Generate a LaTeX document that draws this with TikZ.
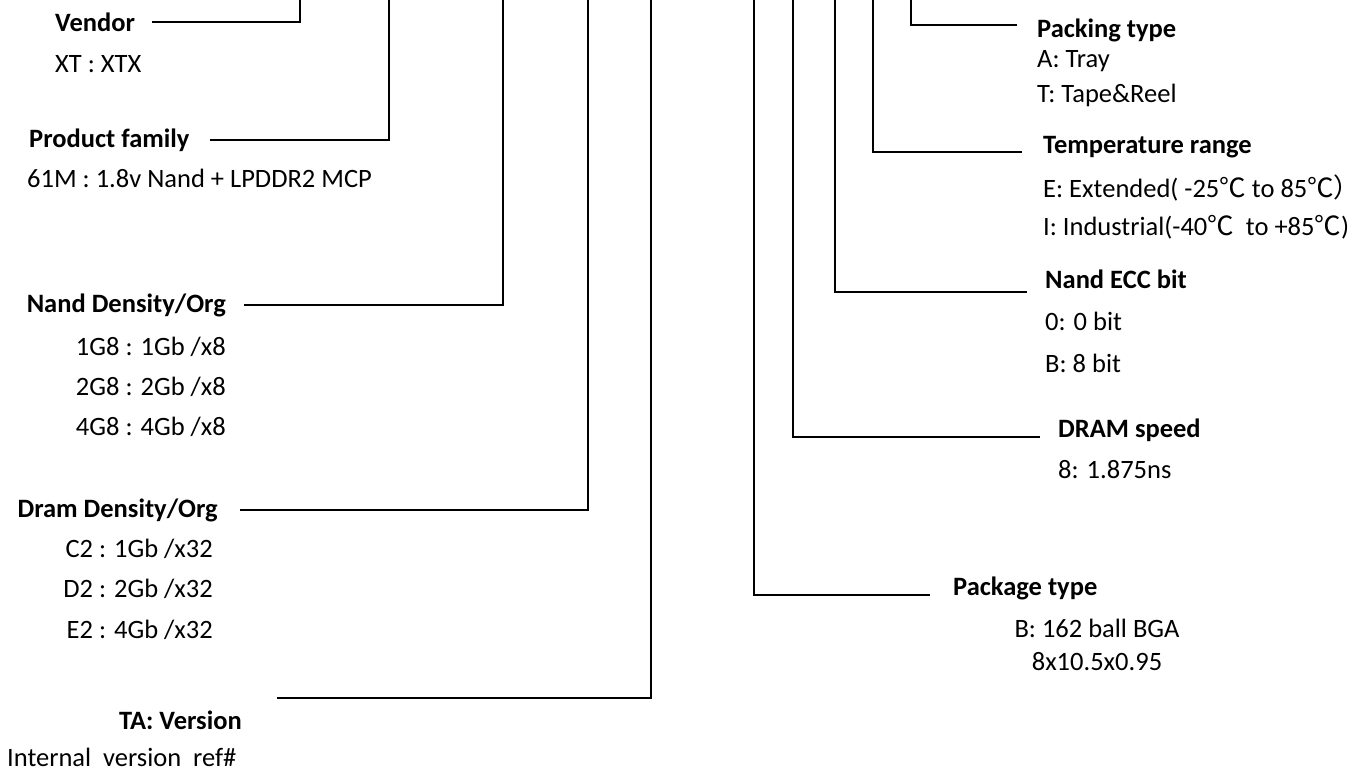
\documentclass[tikz,border=0pt]{standalone}
\usepackage{fontspec}
\setmainfont{Carlito}
\newfontfamily\cjk{Noto Sans CJK SC}
\usetikzlibrary{positioning}
\newcommand{\pnsize}{\fontsize{26.5}{31}\selectfont}
\newcommand{\degc}{{\cjk ℃}}

\begin{document}
\begin{tikzpicture}[x=1pt, y=-1pt,
  head/.style={font=\pnsize\bfseries, inner sep=0pt, anchor=base west},
  item/.style={font=\pnsize, inner sep=0pt, anchor=base west},
  lead/.style={draw, line width=1.6pt}]
\useasboundingbox (0,0) rectangle (1366,772);

% left column
\node[head] (vendor) at (55,31) {Vendor};
\node[item] (vendorxt) at (55,72) {XT : XTX};
\node[head] (family) at (29,147) {Product family};
\node[item] (family61m) at (27,187) {61M : 1.8v Nand + LPDDR2 MCP};
\node[head, anchor=base east] (nand) at (226,312) {Nand Density/Org};
\node[item, anchor=base east] (nand1g) at (226,355) {1G8 : 1Gb /x8};
\node[item, anchor=base east] (nand2g) at (226,395) {2G8 : 2Gb /x8};
\node[item, anchor=base east] (nand4g) at (226,435) {4G8 : 4Gb /x8};
\node[head, anchor=base east] (dram) at (218,517) {Dram Density/Org};
\node[item, anchor=base east] (dramc2) at (213,557) {C2 : 1Gb /x32};
\node[item, anchor=base east] (dramd2) at (213,597) {D2 : 2Gb /x32};
\node[item, anchor=base east] (drame2) at (213,638) {E2 : 4Gb /x32};
\node[head, anchor=base east] (version) at (242,729) {TA: Version};
\node[item] (versionref) at (7,766) {Internal\ \ version\ \ ref\#};

% right column
\node[head] (packing) at (1037,37) {Packing type};
\node[item] (packa) at (1037,67) {A: Tray};
\node[item] (packt) at (1037,102) {T: Tape\&Reel};
\node[head] (temp) at (1043,153) {Temperature range};
\node[item] (tempe) at (1043,197) {E: Extended( -25\degc{} to 85\degc{\cjk ）}};
\node[item] (tempi) at (1043,235) {I: Industrial(-40\degc\ \ to +85\degc)};
\node[head] (ecc) at (1045,288) {Nand ECC bit};
\node[item] (ecc0) at (1045,330) {0: 0 bit};
\node[item] (eccb) at (1045,372) {B: 8 bit};
\node[head] (speed) at (1058,437) {DRAM speed};
\node[item] (speed8) at (1058,478) {8: 1.875ns};
\node[head] (pkg) at (953,595) {Package type};
\node[item, anchor=base] (pkgb) at (1097,637) {B: 162 ball BGA};
\node[item, anchor=base] (pkgsize) at (1097,670) {8x10.5x0.95};

% tops of the leads
\coordinate (vendortop) at (300,0);
\coordinate (familytop) at (389,0);
\coordinate (nandtop) at (503,0);
\coordinate (dramtop) at (588,0);
\coordinate (versiontop) at (651,0);
\coordinate (versionend) at (277,698);
\coordinate (pkgtop) at (754,0);
\coordinate (speedtop) at (793,0);
\coordinate (ecctop) at (835,0);
\coordinate (temptop) at (873,0);
\coordinate (packtop) at (911,0);

\draw[lead, shorten <=17pt] (vendor.east) -| (vendortop);
\draw[lead, shorten <=20pt] (family.east) -| (familytop);
\draw[lead, shorten <=18pt] (nand.east) -| (nandtop);
\draw[lead, shorten <=22pt] (dram.east) -| (dramtop);
\draw[lead] (versiontop) |- (versionend);
\draw[lead] (packtop) |- ([shift={(-20,-12)}]packing.base west);
\draw[lead] (temptop) |- ([shift={(-21,-1)}]temp.base west);
\draw[lead] (ecctop) |- ([shift={(-18,4)}]ecc.base west);
\draw[lead] (speedtop) |- ([shift={(-18,0)}]speed.base west);
\draw[lead] (pkgtop) |- ([shift={(-23,0)}]pkg.base west);
\end{tikzpicture}
\end{document}
